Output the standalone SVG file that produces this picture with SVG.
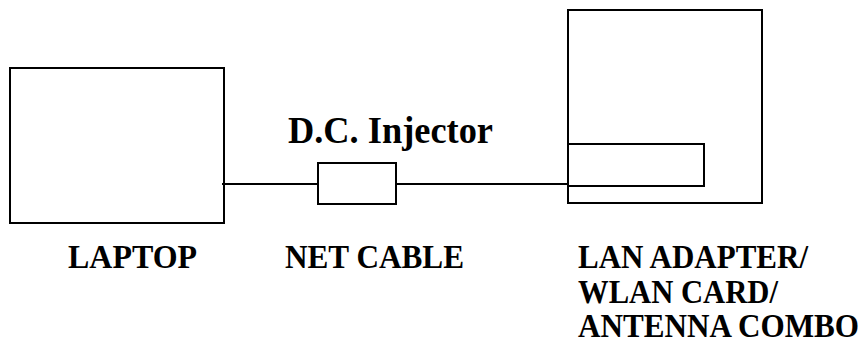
<svg xmlns="http://www.w3.org/2000/svg" width="865" height="347" viewBox="0 0 865 347">
<style>
.box{fill:none;stroke:#000;stroke-width:2}
.wire{fill:none;stroke:#000;stroke-width:2}
.lbl{font-family:"Liberation Serif",serif;font-weight:bold;font-size:33px;fill:#000}
.title{font-family:"Liberation Serif",serif;font-weight:bold;font-size:37px;fill:#000}
</style>
<rect width="865" height="347" fill="#fff"/>
<g id="connectors">
<line class="wire" x1="222" y1="184" x2="318" y2="184"/>
<line class="wire" x1="396" y1="184" x2="568" y2="184"/>
</g>
<g id="laptop">
<rect class="box" x="10" y="68" width="214" height="155"/>
<text class="lbl" x="68" y="268" textLength="129" lengthAdjust="spacingAndGlyphs">LAPTOP</text>
</g>
<g id="injector">
<rect class="box" x="318" y="163" width="78" height="41"/>
<text class="title" x="288" y="143" textLength="205" lengthAdjust="spacingAndGlyphs">D.C. Injector</text>
<text class="lbl" x="285" y="268" textLength="179" lengthAdjust="spacingAndGlyphs">NET CABLE</text>
</g>
<g id="combo">
<rect class="box" x="568" y="10" width="194" height="193"/>
<rect class="box" x="568" y="144" width="136" height="42"/>
<text class="lbl" x="578" y="268" textLength="230" lengthAdjust="spacingAndGlyphs">LAN ADAPTER/</text>
<text class="lbl" x="578" y="303" textLength="200" lengthAdjust="spacingAndGlyphs">WLAN CARD/</text>
<text class="lbl" x="578" y="337" textLength="281" lengthAdjust="spacingAndGlyphs">ANTENNA COMBO</text>
</g>
</svg>
